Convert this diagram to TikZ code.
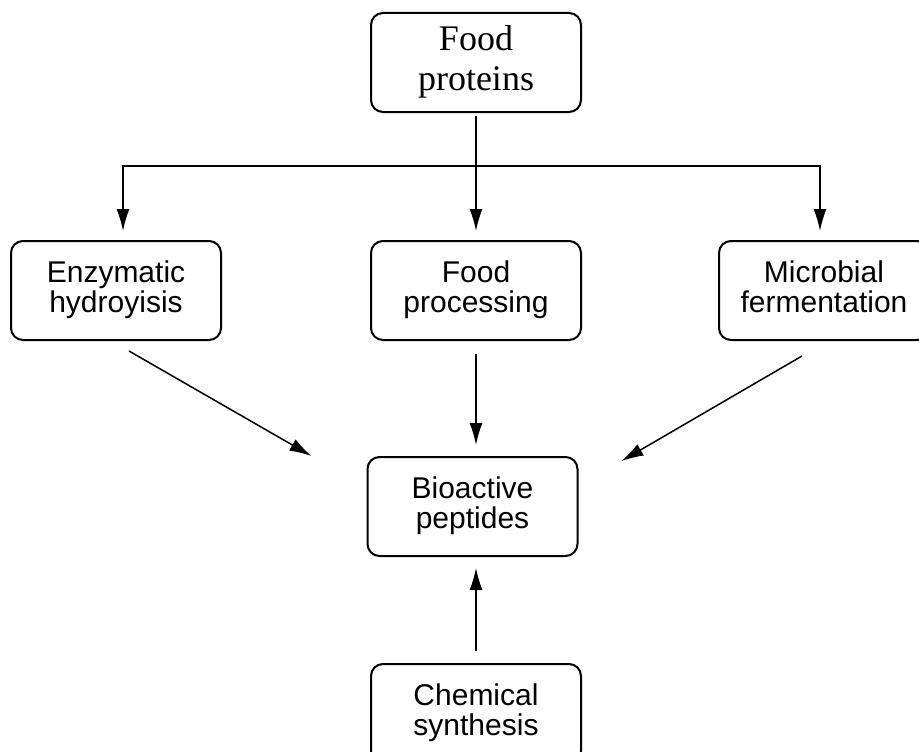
\documentclass[tikz,border=0pt]{standalone}
\usepackage{fontspec}
\setmainfont{Liberation Serif}
\setsansfont{Liberation Sans}
\usetikzlibrary{positioning,arrows.meta}

\begin{document}
\begin{tikzpicture}[auto,node distance=3cm,
                    thick,main node/.style={rectangle,rounded corners=12pt,draw,line width=2pt,
                      minimum width=210pt,minimum height=99pt,align=center,
                      font=\sffamily\fontsize{30}{30}\selectfont,
                      execute at begin node={\rule{0pt}{26pt}},
                      execute at end node={\rule[-7pt]{0pt}{7pt}}},
                    main edge/.style={draw,line width=1.5pt,-{Latex[length=22pt,width=13pt]}}]

  \useasboundingbox (0,0) rectangle (919pt,-752pt);

  \node[main node,font=\rmfamily\fontsize{36}{40}\selectfont,
        execute at begin node={\rule{0pt}{29pt}},
        execute at end node={\rule[-8pt]{0pt}{8pt}}] (1) at (476pt,-62.5pt) {Food\\proteins};
  \node[main node] (3) [below=127pt of 1] {Food\\processing};
  \node[main node] (2) [left=148pt of 3] {Enzymatic\\hydroyisis};
  \node[main node] (4) [right=136pt of 3] {Microbial\\fermentation};
  \node[main node] (5) [below=115pt of 3,xshift=-3.5pt] {Bioactive\\peptides};
  \node[main node] (6) [below=106pt of 5,xshift=3.5pt] {Chemical\\synthesis};
  \coordinate[below=53pt of 1] (b);

  \draw[line width=1.5pt,shorten <=3pt] (1) -- (b);
  \draw[main edge,shorten >=9pt] (b) -| ([xshift=7pt]2.north);
  \draw[main edge,shorten >=9pt] (b) -| ([xshift=-4pt]4.north);
  \path[every edge/.style={main edge}]
    (b) edge [shorten >=9pt] (3)
    (3) edge [shorten <=13pt,shorten >=11pt] (3.south |- 5.north)
    ([xshift=13pt,yshift=-10pt]2.south) edge ([xshift=-55pt]5.north west)
    ([xshift=-22pt,yshift=-15pt]4.south) edge ([xshift=43pt,yshift=-5pt]5.north east)
    (6) edge [shorten <=12pt,shorten >=11pt] (6.north |- 5.south);
\end{tikzpicture}
\end{document}
